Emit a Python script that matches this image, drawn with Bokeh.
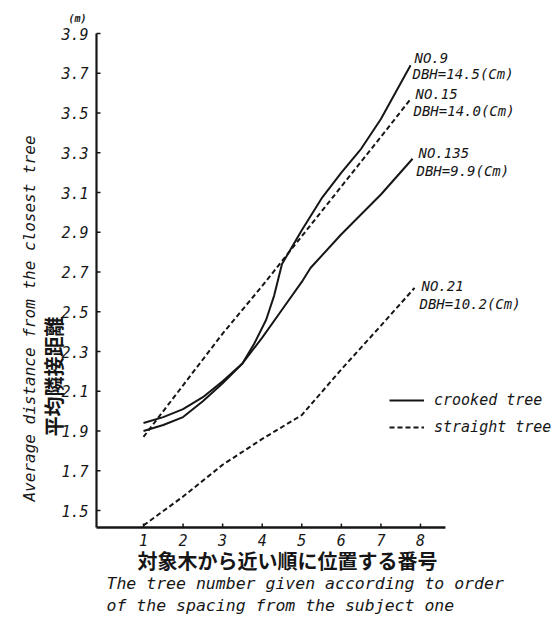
from bokeh.plotting import figure
from bokeh.models import Legend, LegendItem, Range1d
from bokeh.core.properties import value
from bokeh.embed import file_html
from bokeh.resources import INLINE

# ---- data ----
x_no9 = [1, 1.5, 2, 2.5, 3, 3.5, 3.8, 4.1, 4.3, 4.5, 5, 5.5, 6, 6.5, 7, 7.75]
y_no9 = [1.90, 1.93, 1.97, 2.05, 2.14, 2.24, 2.34, 2.46, 2.58, 2.74, 2.91, 3.07, 3.20, 3.32, 3.47, 3.74]

x_no135 = [1, 1.5, 2, 2.5, 3, 3.5, 4, 4.5, 5, 5.22, 6, 7, 7.8]
y_no135 = [1.94, 1.97, 2.01, 2.07, 2.15, 2.24, 2.37, 2.51, 2.65, 2.72, 2.89, 3.09, 3.27]

x_no15 = [1, 2, 3, 4, 5, 6, 7, 7.75]
y_no15 = [1.87, 2.13, 2.39, 2.63, 2.88, 3.13, 3.38, 3.57]

x_no21 = [1, 2, 3, 4, 5, 6, 7, 7.85]
y_no21 = [1.425, 1.57, 1.73, 1.86, 1.98, 2.21, 2.43, 2.62]

x_ticks = [1, 2, 3, 4, 5, 6, 7, 8]
x_tick_labels = ["1", "2", "3", "4", "5", "6", "7", "8"]
y_ticks = [1.5, 1.7, 1.9, 2.1, 2.3, 2.5, 2.7, 2.9, 3.1, 3.3, 3.5, 3.7, 3.9]
y_tick_labels = ["1.5", "1.7", "1.9", "2.1", "2.3", "2.5", "2.7", "2.9", "3.1", "3.3", "3.5", "3.7", "3.9"]

series_names = ["NO.9", "NO.15", "NO.135", "NO.21"]
series_dbh = ["DBH=14.5(Cm)", "DBH=14.0(Cm)", "DBH=9.9(Cm)", "DBH=10.2(Cm)"]
legend_labels = ["crooked tree", "straight tree"]
x_title_jp = "対象木から近い順に位置する番号"
x_title_en1 = "The tree number given according to order"
x_title_en2 = "of the spacing from the subject one"
y_title_en = "Average distance from the closest tree"
y_title_jp = "平均隣接距離"
unit_label = "(m)"

INK = "#161616"
MONO = "DejaVu Sans Mono"
CJK = "Noto Sans CJK JP"

W, H = 558, 618
PXU = 39.57    # pixels per x unit
PYU = 198.75   # pixels per y unit


# canvas pixel -> data (layout helpers only)
def dx(px):
    return 1 + (px - 143) / PXU


def dy(py):
    return 1.5 + (510 - py) / PYU


p = figure(width=W, height=H, output_backend="svg", toolbar_location=None,
           x_range=Range1d(dx(0), dx(W)), y_range=Range1d(dy(H), dy(0)),
           x_axis_location=None, y_axis_location=None, min_border=0)
p.background_fill_color = "white"
p.border_fill_color = "white"
p.outline_line_color = None
p.grid.visible = False

# ---- axes (drawn on the library's scales) ----
X_AX = dx(96)           # y-axis position
Y_AX = 1.414            # x-axis position
X_END = 8.63
Y_END = 3.9
p.segment(x0=[X_AX], y0=[Y_AX], x1=[X_END], y1=[Y_AX], line_color=INK, line_width=2.5)
p.segment(x0=[X_AX], y0=[Y_AX], x1=[X_AX], y1=[Y_END], line_color=INK, line_width=2.2)
p.segment(x0=x_ticks, y0=[Y_AX] * len(x_ticks), x1=x_ticks,
          y1=[Y_AX + 4 / PYU] * len(x_ticks), line_color=INK, line_width=1.5)
p.segment(x0=[X_AX] * len(y_ticks), y0=y_ticks, x1=[X_AX + 4 / PXU] * len(y_ticks),
          y1=y_ticks, line_color=INK, line_width=1.5)
p.text(x=[dx(88)] * len(y_ticks), y=y_ticks, text=y_tick_labels,
       text_font=value(MONO), text_font_style="italic", text_font_size="15px",
       text_color=INK, text_align="right", text_baseline="middle")
p.text(x=x_ticks, y=[dy(539)] * len(x_ticks), text=x_tick_labels,
       text_font=value(MONO), text_font_style="italic", text_font_size="15px",
       text_color=INK, text_align="center", text_baseline="middle")

# ---- series ----
r9 = p.line(x_no9, y_no9, line_color=INK, line_width=2.0)
r135 = p.line(x_no135, y_no135, line_color=INK, line_width=2.0)
r15 = p.line(x_no15, y_no15, line_color=INK, line_width=2.0, line_dash="5 3")
r21 = p.line(x_no21, y_no21, line_color=INK, line_width=2.0, line_dash="5 3")

# series annotations
name_px = [414, 415, 418, 421]
name_py = [57, 93, 152, 285]
dbh_px = [412, 413, 416, 419]
dbh_py = [73, 110, 170, 303]
p.text(x=[dx(v) for v in name_px], y=[dy(v) for v in name_py], text=series_names,
       text_font=value(MONO), text_font_style="italic", text_font_size="14px",
       text_color=INK, text_align="left", text_baseline="middle")
p.text(x=[dx(v) for v in dbh_px], y=[dy(v) for v in dbh_py], text=series_dbh,
       text_font=value(MONO), text_font_style="italic", text_font_size="14px",
       text_color=INK, text_align="left", text_baseline="middle")


def txt(t, px, py, size, font=MONO, style="italic", align="left", angle=0.0):
    p.text(x=[dx(px)], y=[dy(py)], text=[t], text_font=value(font),
           text_font_style=style, text_font_size=size, text_color=INK,
           text_align=align, text_baseline="middle", angle=angle)


txt(unit_label, 77, 18, "10px", style="bold italic", align="center")
txt(x_title_jp, 287, 560, "20px", font=CJK, style="bold", align="center")
txt(x_title_en1, 106, 583, "16.5px")
txt(x_title_en2, 106, 605, "16.5px")
txt(y_title_en, 29, 318, "16px", align="center", angle=1.5707963)
txt(y_title_jp, 53, 376, "20px", font=CJK, style="bold", align="center", angle=1.5707963)

# ---- legend ----
legend = Legend(items=[LegendItem(label=legend_labels[0], renderers=[r9]),
                       LegendItem(label=legend_labels[1], renderers=[r15])],
                location=(389, 181), orientation="vertical",
                glyph_width=35, glyph_height=20, label_height=20, spacing=7,
                label_standoff=10, padding=0, margin=0,
                border_line_color=None, background_fill_alpha=0,
                label_text_font=MONO, label_text_font_style="italic",
                label_text_font_size="15px", label_text_color=INK)
p.add_layout(legend)

open("out.html", "w").write(file_html(p, INLINE))
